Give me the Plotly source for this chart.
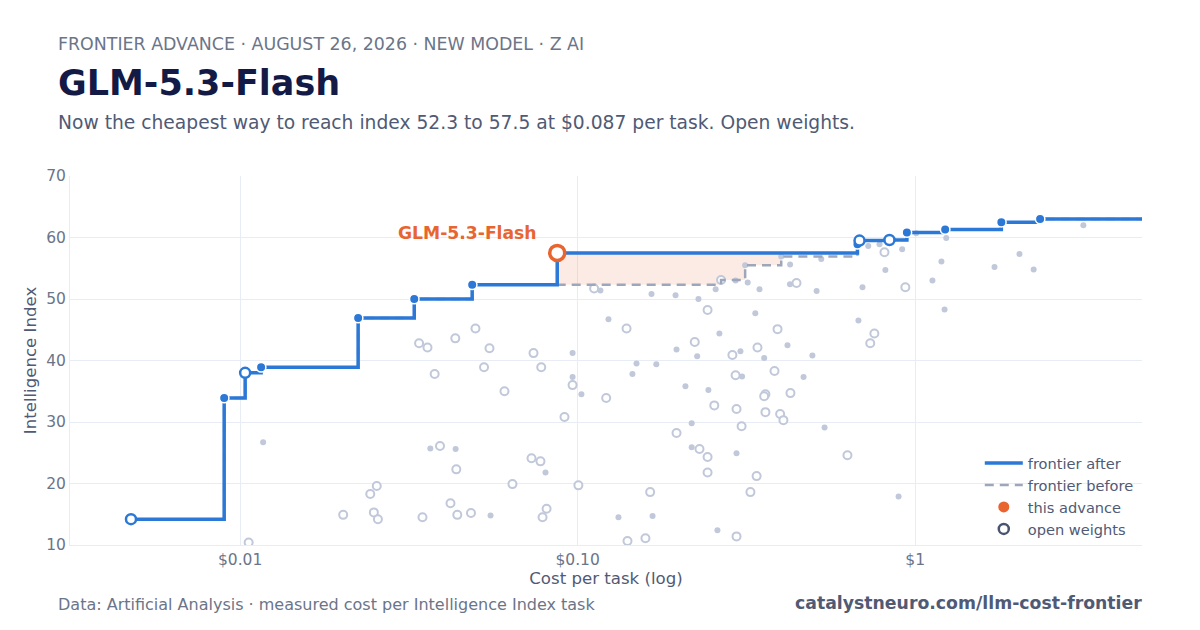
import math
import plotly.graph_objects as go

# ---------------- data ----------------
# frontier after the new model (excluding the new model itself)
after_cost = [0.00475, 0.00897, 0.01035, 0.01154, 0.02237, 0.0328, 0.0487,
              0.6745, 0.684, 0.839, 0.945, 1.227, 1.80, 2.345]
after_idx = [14.2, 33.9, 38.0, 38.9, 46.9, 50.0, 52.3,
             58.9, 59.5, 59.6, 60.8, 61.3, 62.5, 63.0]
after_open = [1, 0, 1, 0, 0, 0, 0, 0, 1, 1, 0, 0, 0, 0]

# points that were on the frontier before and are now dominated
before_only_cost = [0.266, 0.3135, 0.401]
before_only_idx = [53.1, 55.5, 56.9]
before_only_open = [1, 0, 0]

# the new model
new_name = "GLM-5.3-Flash"
new_cost = 0.087
new_idx = 57.5

# other models, open weights
open_cost = [0.0106, 0.0202, 0.0243, 0.0254, 0.0249, 0.0256, 0.0347, 0.0420, 0.0440,
             0.0391, 0.0437, 0.0339, 0.0359, 0.0377, 0.0434, 0.0498, 0.0548, 0.0528,
             0.0607, 0.0740, 0.0780, 0.0966, 0.0914, 0.1215, 0.1119, 0.1396, 0.2223,
             0.1963, 0.0730, 0.0776, 0.0641, 0.1005, 0.0809, 0.0787, 0.164, 0.1405,
             0.1588, 0.0483, 0.445, 0.935, 0.2426, 0.391, 0.2874, 0.341, 0.757,
             0.736, 0.383, 0.2937, 0.360, 0.357, 0.427, 0.254, 0.2956, 0.360, 0.398,
             0.407, 0.306, 0.2296, 0.2426, 0.630, 0.2426, 0.339, 0.325, 0.2956, 0.811]
open_idx = [10.4, 14.9, 18.3, 19.6, 15.3, 14.2, 14.5, 16.8, 14.9,
            26.1, 22.3, 42.8, 42.1, 37.8, 43.6, 45.2, 42.0, 38.9,
            35.0, 41.2, 38.9, 36.0, 30.8, 33.9, 51.7, 45.2, 43.0,
            28.2, 24.1, 23.6, 19.9, 19.7, 15.9, 14.5, 18.6, 10.65,
            11.1, 15.2, 52.6, 51.9, 48.2, 45.1, 40.9, 42.1, 44.4,
            42.8, 38.3, 37.6, 34.5, 34.2, 34.7, 32.7, 32.1, 31.6, 31.3,
            30.3, 29.3, 25.6, 24.3, 24.6, 21.8, 21.2, 18.6, 11.4, 57.6]

# other models, closed weights
closed_cost = [0.0117, 0.0366, 0.0435, 0.0966, 0.0966, 0.1026, 0.1168, 0.1234, 0.1655,
               0.195, 0.1963, 0.1494, 0.171, 0.1453, 0.2086, 0.2177, 0.2177, 0.0803,
               0.1321, 0.1667, 0.0552, 0.2937, 0.319, 0.2564, 0.3457, 0.4256, 0.5105,
               0.698, 0.228, 0.336, 0.263, 0.226, 0.3036, 0.357, 0.4185, 0.496, 0.679,
               0.307, 0.467, 0.244, 0.539, 0.2956, 0.893, 0.2595, 0.726, 0.784, 0.915,
               0.816, 1.007, 1.236, 1.196, 1.125, 1.222, 1.718, 2.037, 2.244, 3.15,
               0.527, 0.426]
closed_idx = [26.7, 25.7, 25.6, 41.2, 37.3, 34.5, 51.4, 46.7, 50.8,
              50.6, 41.8, 39.5, 39.4, 37.8, 35.8, 29.8, 25.9, 21.8,
              14.5, 14.7, 14.8, 53.0, 52.7, 51.6, 51.6, 52.4, 51.3,
              51.9, 50.0, 47.7, 44.4, 40.7, 41.5, 40.4, 42.5, 40.8, 46.5,
              37.4, 37.3, 35.2, 29.1, 24.9, 17.9, 12.4, 58.6, 58.9, 58.1,
              54.7, 60.7, 59.9, 56.1, 53.0, 48.3, 55.2, 57.3, 54.8, 62.0,
              56.5, 55.6]

x_tickvals = [0.01, 0.1, 1]
x_ticktext = ["$0.01", "$0.10", "$1"]

kicker = "FRONTIER ADVANCE · AUGUST 26, 2026 · NEW MODEL · Z AI"
headline = "GLM-5.3-Flash"
subtitle = "Now the cheapest way to reach index 52.3 to 57.5 at $0.087 per task. Open weights."
source = "Data: Artificial Analysis · measured cost per Intelligence Index task"
site = "catalystneuro.com/llm-cost-frontier"

# ---------------- style ----------------
FONT = "DejaVu Sans"
BLUE = "#2B78D6"
ORANGE = "#E8652F"
DASH = "#9DA6BA"
GRAY = "#C0C8DA"
GRID = "#E8EDF5"
X_RANGE = [-2.504, 0.672]
Y_RANGE = [10, 70]

x_end = 10 ** X_RANGE[1]

# frontier "after" line (includes the new model)
a_pts = sorted(list(zip(after_cost, after_idx)) + [(new_cost, new_idx)])
a_x = [p[0] for p in a_pts] + [x_end]
a_y = [p[1] for p in a_pts] + [a_pts[-1][1]]

# frontier "before" line
b_pts = sorted(list(zip(after_cost, after_idx)) + list(zip(before_only_cost, before_only_idx)))
b_x = [p[0] for p in b_pts] + [x_end]
b_y = [p[1] for p in b_pts] + [b_pts[-1][1]]

# shaded gain region between new and old frontier
prev_level = max(y for x, y in b_pts if x <= new_cost)
dom = sorted(zip(before_only_cost, before_only_idx))
fx = [new_cost, new_cost]
fy = [new_idx, prev_level]
lvl = prev_level
for x, y in dom:
    fx += [x, x]
    fy += [lvl, y]
    lvl = y
fx += [dom[-1][0], new_cost]
fy += [new_idx, new_idx]

fig = go.Figure()

fig.add_trace(go.Scatter(x=fx, y=fy, mode="lines", fill="toself",
                         fillcolor="rgba(233,100,46,0.13)", line=dict(width=0),
                         showlegend=False, hoverinfo="skip"))

# other models
fig.add_trace(go.Scatter(x=closed_cost + [c for c, o in zip(before_only_cost, before_only_open) if not o],
                         y=closed_idx + [v for v, o in zip(before_only_idx, before_only_open) if not o],
                         mode="markers", showlegend=False,
                         marker=dict(size=6, color=GRAY, line=dict(width=0))))
fig.add_trace(go.Scatter(x=open_cost + [c for c, o in zip(before_only_cost, before_only_open) if o],
                         y=open_idx + [v for v, o in zip(before_only_idx, before_only_open) if o],
                         mode="markers", showlegend=False,
                         marker=dict(size=8, color="white", line=dict(width=2, color=GRAY))))

# frontier before (dashed)
fig.add_trace(go.Scatter(x=b_x, y=b_y, mode="lines", line=dict(shape="hv", color=DASH, width=2.5, dash="9px,6px"),
                         showlegend=False, hoverinfo="skip"))
# frontier after (solid)
fig.add_trace(go.Scatter(x=a_x, y=a_y, mode="lines", line=dict(shape="hv", color=BLUE, width=3.5),
                         showlegend=False, hoverinfo="skip"))

# frontier markers
fig.add_trace(go.Scatter(x=[c for c, o in zip(after_cost, after_open) if not o],
                         y=[v for v, o in zip(after_idx, after_open) if not o],
                         mode="markers", showlegend=False,
                         marker=dict(size=9.5, color=BLUE, line=dict(width=1.5, color="white"))))
fig.add_trace(go.Scatter(x=[c for c, o in zip(after_cost, after_open) if o],
                         y=[v for v, o in zip(after_idx, after_open) if o],
                         mode="markers", showlegend=False,
                         marker=dict(size=10, color="white", line=dict(width=2.5, color=BLUE))))

# new model
fig.add_trace(go.Scatter(x=[new_cost], y=[new_idx], mode="markers", showlegend=False,
                         marker=dict(size=15, color="white", line=dict(width=3.5, color=ORANGE))))

# legend entries
fig.add_trace(go.Scatter(x=[None], y=[None], mode="lines", name="frontier after",
                         line=dict(color=BLUE, width=3.5)))
fig.add_trace(go.Scatter(x=[None], y=[None], mode="lines", name="frontier before",
                         line=dict(color=DASH, width=2.5, dash="9px,6px")))
fig.add_trace(go.Scatter(x=[None], y=[None], mode="markers", name="this advance",
                         marker=dict(size=11, color=ORANGE)))
fig.add_trace(go.Scatter(x=[None], y=[None], mode="markers", name="open weights",
                         marker=dict(size=10, color="white", line=dict(width=2.5, color="#4A5470"))))

# page body adds an 8px offset; plot area target: x 70..1142, y 176..545 (window px)
OFF = 8
PL, PR, PT, PB = 70, 1142, 176, 545
PW = float(PR - PL)
PH = float(PB - PT)
def px_x(p):
    return (p - PL) / PW
def px_y(p):
    return (PB - p) / PH

ann = [
    dict(text=kicker, x=px_x(56), y=px_y(44), font=dict(size=17.4, color="#6B7589")),
    dict(text="<b>" + headline + "</b>", x=px_x(56), y=px_y(83), font=dict(size=35, color="#121A45")),
    dict(text=subtitle, x=px_x(56), y=px_y(122), font=dict(size=18.7, color="#505A75")),
    dict(text=source, x=px_x(56), y=px_y(604), font=dict(size=16, color="#6B7589")),
]
annotations = []
for a in ann:
    annotations.append(dict(xref="paper", yref="paper", xanchor="left", yanchor="middle",
                            showarrow=False, **a))
annotations.append(dict(xref="paper", yref="paper", x=1.002, y=px_y(603), xanchor="right", yanchor="middle",
                        showarrow=False, text="<b>" + site + "</b>",
                        font=dict(size=17.3, color="#505A75")))
annotations.append(dict(x=math.log10(new_cost), y=new_idx, xref="x", yref="y",
                        text="<b>" + new_name + "</b>", showarrow=False,
                        xanchor="right", yanchor="bottom", xshift=-18, yshift=8,
                        font=dict(size=17.2, color=ORANGE)))

W, H = 1200 - OFF, 630 - OFF
fig.update_layout(
    width=W, height=H,
    margin=dict(l=PL - OFF, r=1200 - PR, t=PT - OFF, b=630 - PB),
    paper_bgcolor="white", plot_bgcolor="white",
    font=dict(family=FONT, color="#505A75"),
    showlegend=True,
    legend=dict(x=0.997, y=0, xanchor="right", yanchor="bottom", bgcolor="rgba(0,0,0,0)",
                font=dict(size=14.6, color="#505A75"), itemwidth=38),
    annotations=annotations,
    xaxis=dict(type="log", range=X_RANGE, tickvals=x_tickvals, ticktext=x_ticktext,
               showgrid=True, gridcolor=GRID, gridwidth=1, zeroline=False,
               showline=True, linecolor=GRID, linewidth=1, ticks="",
               tickfont=dict(size=15.5, color="#6B7589"),
               title=dict(text="Cost per task (log)", font=dict(size=16.6, color="#505A75"), standoff=4)),
    yaxis=dict(range=Y_RANGE, dtick=10, showgrid=True, gridcolor=GRID, gridwidth=1, zeroline=False,
               showline=True, linecolor=GRID, linewidth=1, ticks="",
               tickfont=dict(size=15.5, color="#6B7589"),
               title=dict(text="Intelligence Index", font=dict(size=16.6, color="#505A75"), standoff=5)),
)

fig.write_html("out.html")
